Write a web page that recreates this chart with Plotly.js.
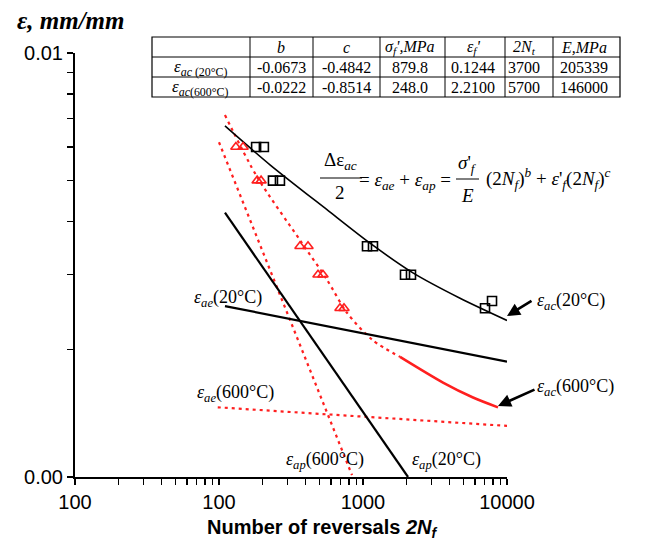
<!DOCTYPE html>
<html>
<head>
<meta charset="utf-8">
<script src="https://cdn.plot.ly/plotly-3.0.1.min.js"></script>
<style>
html,body{margin:0;padding:0;background:#fff;}
#chart{width:649px;height:545px;}
</style>
</head>
<body>
<div id="chart"></div>
<script>
// ---------- data ----------
// measured points, 20°C (black squares)
const sq20N = [181, 205, 237, 265, 1066, 1173, 1957, 2154, 7035, 7870];
const sq20E = [0.006, 0.006, 0.005, 0.005, 0.0035, 0.0035, 0.003, 0.003, 0.0025, 0.0026];
// measured points, 600°C (red triangles)
const tri600N = [131, 147, 184, 196, 365, 415, 487, 527, 692, 738];
const tri600E = [0.006, 0.006, 0.005, 0.005, 0.0035, 0.0035, 0.003, 0.003, 0.0025, 0.0025];
// total strain curve 20°C
const ac20N = [110, 226, 562, 1119, 2223, 4720, 10000];
const ac20E = [0.00673, 0.00545, 0.00427, 0.00356, 0.00303, 0.00264, 0.00234];
// total strain curve 600°C (dotted part, then solid part)
const ac600DotN = [110, 184, 365, 562, 774, 1172, 1808];
const ac600DotE = [0.00714, 0.00510, 0.00362, 0.00292, 0.00244, 0.00210, 0.00192];
const ac600SolN = [1808, 3593, 5808, 8660];
const ac600SolE = [0.00192, 0.00167, 0.00154, 0.00146];
// elastic / plastic lines
const ap20N = [110, 2054];   const ap20E = [0.0042, 0.001];
const ae20N = [110, 10000];  const ae20E = [0.00253, 0.00187];
const ap600N = [100, 839];   const ap600E = [0.00616, 0.00101];
const ae600N = [98, 10000];  const ae600E = [0.00146, 0.00132];
// axis ticks
const xTickVals = [10, 100, 1000, 10000];
const xTickText = ["100", "100", "1000", "10000"];
const xMinorVals = [20,30,40,50,60,70,80,90,200,300,400,500,600,700,800,900,2000,3000,4000,5000,6000,7000,8000,9000];
const yTickVals = [0.001, 0.01];
const yTickText = ["0.00", "0.01"];
const yMinorVals = [0.002,0.003,0.004,0.005,0.006,0.007,0.008,0.009];
// table
const tableHead = ["", "<i>b</i>", "<i>c</i>", "<i>σ<sub>f</sub>',MPa</i>", "<i>ε<sub>f</sub>'</i>", "<i>2N<sub>t</sub></i>", "<i>E,MPa</i>"];
const tableRow20 = ["<i>ε</i><sub><i>ac</i> (20°C)</sub>", "-0.0673", "-0.4842", "879.8", "0.1244", "3700", "205339"];
const tableRow600 = ["<i>ε</i><sub><i>ac</i>(600°C)</sub>", "-0.0222", "-0.8514", "248.0", "2.2100", "5700", "146000"];

// ---------- layout helpers (pixel -> paper) ----------
const L = 75, R = 507, T = 53, B = 477;
const px = p => (p - L) / (R - L);
const py = p => (B - p) / (B - T);
const RED = '#ff1f1f';
const SERIF = 'Liberation Serif, Times New Roman, serif';
const SANS = 'Arial, Liberation Sans, sans-serif';

const traces = [
  {x: ap600N, y: ap600E, mode:'lines', line:{color:RED, width:2.2, dash:'3px,4px'}},
  {x: ae600N, y: ae600E, mode:'lines', line:{color:RED, width:2.2, dash:'3px,4px'}},
  {x: ac600DotN, y: ac600DotE, mode:'lines', line:{color:RED, width:2.2, dash:'3px,4px', shape:'spline', smoothing:0.8}},
  {x: ac600SolN, y: ac600SolE, mode:'lines', line:{color:RED, width:2.5, shape:'spline', smoothing:0.8}},
  {x: ap20N, y: ap20E, mode:'lines', line:{color:'#000', width:2.2}},
  {x: ae20N, y: ae20E, mode:'lines', line:{color:'#000', width:2.2}},
  {x: ac20N, y: ac20E, mode:'lines', line:{color:'#000', width:1.6, shape:'spline', smoothing:0.8}},
  {x: tri600N, y: tri600E, mode:'markers', marker:{symbol:'triangle-up-open', size:9, color:RED, line:{width:1.6, color:RED}}},
  {x: sq20N, y: sq20E, mode:'markers', marker:{symbol:'square-open', size:9, color:'#000', line:{width:1.6, color:'#000'}}}
];

const ann = [];
const shapes = [];
function txt(x, y, text, size, opts) {
  ann.push(Object.assign({xref:'paper', yref:'paper', x:px(x), y:py(y), text:text, showarrow:false,
    xanchor:'center', yanchor:'middle', font:{family:SERIF, size:size, color:'#000'}}, opts || {}));
}
function hline(x0, x1, y, w) {
  shapes.push({type:'line', xref:'paper', yref:'paper', x0:px(x0), x1:px(x1), y0:py(y), y1:py(y), line:{color:'#000', width:w||1}});
}
function vline(x, y0, y1, w) {
  shapes.push({type:'line', xref:'paper', yref:'paper', x0:px(x), x1:px(x), y0:py(y0), y1:py(y1), line:{color:'#000', width:w||1}});
}

// table
const colX = [152, 250, 313, 380, 445, 505, 553, 620];
const rowY = [37, 57, 77, 97];
shapes.push({type:'rect', xref:'paper', yref:'paper', x0:px(152), x1:px(620), y0:py(37), y1:py(97), fillcolor:'#fff', line:{color:'#000', width:1.2}});
rowY.slice(1,3).forEach(y => hline(152, 620, y, 1));
colX.slice(1,7).forEach(x => vline(x, 37, 97, 1));
const cellCx = [200, 281, 346, 410, 473, 524, 584];
tableHead.forEach((t,i) => { if (t) txt(cellCx[i], 47.5, t, 16); });
tableRow20.forEach((t,i) => txt(cellCx[i], 67.5, t, i===0 ? 17 : 16));
tableRow600.forEach((t,i) => txt(cellCx[i], 87.5, t, i===0 ? 17 : 16));

// equation
txt(340, 161, "Δε<sub><i>ac</i></sub>", 19);
hline(320, 362, 178, 1);
txt(340, 192, "2", 19);
txt(405, 181, "= <i>ε</i><sub><i>ae</i></sub> + <i>ε</i><sub><i>ap</i></sub> =", 19);
txt(467, 164, "<i>σ</i>'<sub><i>f</i></sub>", 19);
hline(456, 479, 179, 1);
txt(467, 195, "<i>E</i>", 19);
txt(548, 178, "(2<i>N</i><sub><i>f</i></sub>)<sup><i>b</i></sup> + <i>ε</i>'<sub><i>f</i></sub>(2<i>N</i><sub><i>f</i></sub>)<sup><i>c</i></sup>", 19);

// curve labels
txt(228, 298, "<i>ε</i><sub><i>ae</i></sub>(20°C)", 18);
txt(235, 393, "<i>ε</i><sub><i>ae</i></sub>(600°C)", 18);
txt(325, 460, "<i>ε</i><sub><i>ap</i></sub>(600°C)", 18);
txt(446, 460, "<i>ε</i><sub><i>ap</i></sub>(20°C)", 18);
txt(571, 301, "<i>ε</i><sub><i>ac</i></sub>(20°C)", 18);
txt(575, 387, "<i>ε</i><sub><i>ac</i></sub>(600°C)", 18);

// arrows
function arrow(hx, hy, tx, ty) {
  ann.push({xref:'paper', yref:'paper', x:px(hx), y:py(hy), ax:tx-hx, ay:ty-hy, axref:'pixel', ayref:'pixel',
    text:'', showarrow:true, arrowhead:2, arrowsize:1, arrowwidth:2.6, arrowcolor:'#000'});
}
arrow(507, 316, 533, 300);
arrow(498, 406, 536, 389);

// axis titles
txt(70, 20, "<b><i>ε, mm/mm</i></b>", 25);
txt(322, 528, "<b>Number of reversals <i>2N<sub>f</sub></i></b>", 20, {font:{family:SANS, size:20, color:'#000'}});

const layout = {
  width:649, height:545,
  margin:{l:L, r:649-R, t:T, b:545-B},
  paper_bgcolor:'#fff', plot_bgcolor:'#fff',
  showlegend:false,
  xaxis:{type:'log', range:[1,4], showgrid:false, zeroline:false, showline:true, linecolor:'#000', linewidth:2,
    tickmode:'array', tickvals:xTickVals, ticktext:xTickText, ticks:'outside', ticklen:6, tickwidth:1.5, tickcolor:'#000',
    minor:{tickmode:'array', tickvals:xMinorVals, ticks:'outside', ticklen:6, tickwidth:1.5, tickcolor:'#000', showgrid:false},
    ticklabelstandoff:0,
    tickfont:{family:SANS, size:20, color:'#000'}},
  yaxis:{type:'log', range:[-3,-2], showgrid:false, zeroline:false, showline:true, linecolor:'#000', linewidth:2,
    tickmode:'array', tickvals:yTickVals, ticktext:yTickText, ticks:'outside', ticklen:6, tickwidth:1.5, tickcolor:'#000',
    minor:{tickmode:'array', tickvals:yMinorVals, ticks:'outside', ticklen:6, tickwidth:1.5, tickcolor:'#000', showgrid:false},
    tickfont:{family:SANS, size:20, color:'#000'}},
  annotations:ann,
  shapes:shapes
};
Plotly.newPlot('chart', traces, layout, {staticPlot:true, displayModeBar:false});
</script>
</body>
</html>
